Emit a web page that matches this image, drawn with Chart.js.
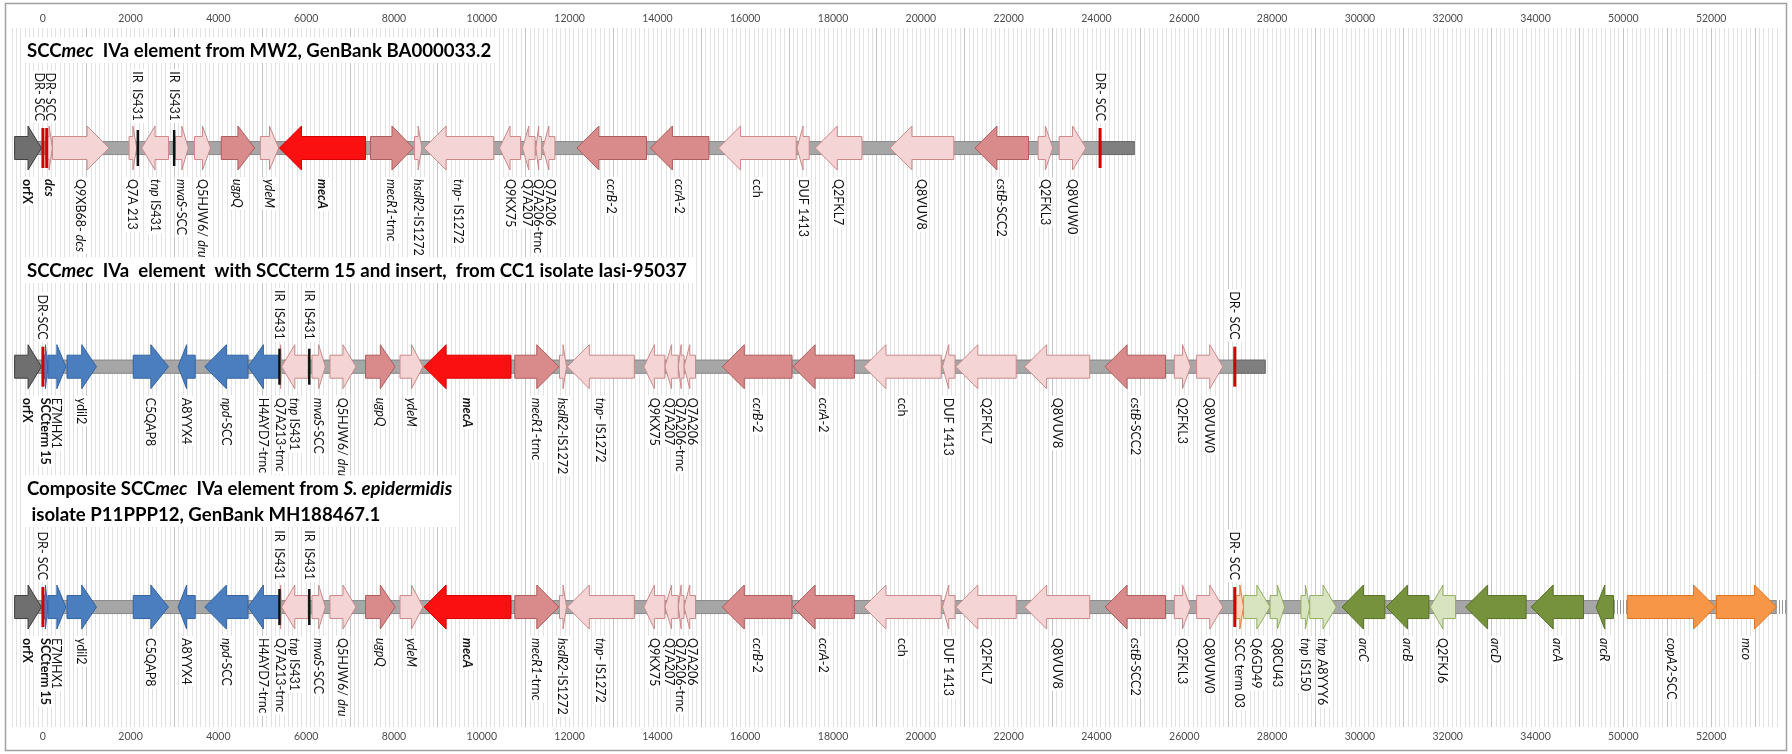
<!DOCTYPE html>
<html>
<head>
<meta charset="utf-8">
<title>SCCmec IVa element maps</title>
<script src="https://cdn.jsdelivr.net/npm/chart.js@4.4.1/dist/chart.umd.min.js"></script>
<style>
  html, body { margin: 0; padding: 0; background: #ffffff; }
  #wrap { position: relative; width: 1792px; height: 754px; }
  canvas { display: block; }
</style>
</head>
<body>
<div id="wrap"><canvas id="map" width="1792" height="754"></canvas></div>
<script>
// ---------------------------------------------------------------------------
// Gene coordinates in bp. Label markup: *italic*, #bold#.
// Each gene: [label, start, end, strand, class]
// ---------------------------------------------------------------------------
const MW2_GENES = [
  ['#orfX#', -640, -30, 1, 'chromosome'],
  ['#*dcs*#', 70, 220, 1, 'scc'],
  ['Q9XB68- *dcs*', 221, 1510, 1, 'scc'],
  ['Q7A 213', 1966, 2140, 1, 'scc'],
  ['*tnp* IS431', 2253, 2864, -1, 'scc'],
  ['*mvaS*-SCC', 3020, 3316, 1, 'scc'],
  ['Q5HJW6/ *dru*', 3456, 3822, 1, 'scc'],
  ['*ugpQ*', 4066, 4825, 1, 'sccCore'],
  ['*ydeM*', 4955, 5374, 1, 'scc'],
  ['#*mecA*#', 5392, 7353, -1, 'mecA'],
  ['*mecR1*-trnc', 7467, 8442, 1, 'sccCore'],
  ['*hsdR2*-IS1272', 8469, 8633, 1, 'scc'],
  ['*tnp*- IS1272', 8686, 10273, -1, 'scc'],
  ['Q9KX75', 10403, 10884, -1, 'scc'],
  ['Q7A207', 10927, 11214, -1, 'scc'],
  ['Q7A206-trnc', 11232, 11362, -1, 'scc'],
  ['Q7A206', 11389, 11667, -1, 'scc'],
  ['*ccrB*-2', 12167, 13752, -1, 'sccCore'],
  ['*ccrA*-2', 13841, 15173, -1, 'sccCore'],
  ['cch', 15392, 17162, -1, 'scc'],
  ['DUF 1413', 17178, 17458, -1, 'scc'],
  ['Q2FKL7', 17596, 18660, -1, 'scc'],
  ['Q8VUV8', 19296, 20752, -1, 'scc'],
  ['*cstB*-SCC2', 21232, 22453, -1, 'sccCore'],
  ['Q2FKL3', 22670, 23002, 1, 'scc'],
  ['Q8VUW0', 23150, 23761, 1, 'scc']
];

const IASI_GENES = [
  ['#orfX#', -640, -30, 1, 'chromosome'],
  ['#SCCterm 15#', 10, 113, 1, 'insert'],
  ['E7MHX1', 117, 527, 1, 'insert'],
  ['ydil2', 553, 1224, 1, 'insert'],
  ['C5QAP8', 2061, 2863, 1, 'insert'],
  ['A8YYX4', 3082, 3473, -1, 'insert'],
  ['*npd*-SCC', 3690, 4677, -1, 'insert'],
  ['H4AYD7-trnc', 4677, 5374, -1, 'insert'],
  ['Q7A213-trnc', 5396, 5440, 1, 'scc'],
  ['*tnp* IS431', 5440, 6044, -1, 'scc'],
  ['*mvaS*-SCC', 6132, 6437, 1, 'scc'],
  ['Q5HJW6/ *dru*', 6542, 7134, 1, 'scc'],
  ['*ugpQ*', 7353, 8025, 1, 'sccCore'],
  ['*ydeM*', 8137, 8661, 1, 'scc'],
  ['#*mecA*#', 8686, 10665, -1, 'mecA'],
  ['*mecR1*-trnc', 10752, 11754, 1, 'sccCore'],
  ['*hsdR2*-IS1272', 11770, 11930, 1, 'scc'],
  ['*tnp*- IS1272', 11948, 13474, -1, 'scc'],
  ['Q9KX75', 13692, 14171, -1, 'scc'],
  ['Q7A207', 14171, 14476, -1, 'scc'],
  ['Q7A206-trnc', 14476, 14606, -1, 'scc'],
  ['Q7A206', 14606, 14868, -1, 'scc'],
  ['*ccrB*-2', 15478, 17066, -1, 'sccCore'],
  ['*ccrA*-2', 17090, 18485, -1, 'sccCore'],
  ['cch', 18704, 20465, -1, 'scc'],
  ['DUF 1413', 20493, 20780, -1, 'scc'],
  ['Q2FKL7', 20797, 22173, -1, 'scc'],
  ['Q8VUV8', 22365, 23847, -1, 'scc'],
  ['*cstB*-SCC2', 24196, 25572, -1, 'sccCore'],
  ['Q2FKL3', 25773, 26146, 1, 'scc'],
  ['Q8VUW0', 26282, 26879, 1, 'scc']
];

// S. epidermidis P11PPP12: same SCCmec IVa core, then the downstream insert
const P11_EXTRA_GENES = [
  ['SCC term 03', 27180, 27351, 1, 'term'],
  ['Q6GD49', 27351, 27954, 1, 'acmeAux'],
  ['Q8CU43', 27954, 28287, 1, 'acmeAux'],
  ['*tnp* IS150', 28658, 28858, 1, 'acmeAux'],
  ['*tnp* A8YYY6', 28858, 29462, 1, 'acmeAux'],
  ['*arcC*', 29593, 30568, -1, 'acme'],
  ['*arcB*', 30598, 31573, -1, 'acme'],
  ['Q2FKJ6', 31604, 32178, -1, 'acmeAux'],
  ['*arcD*', 32408, 33786, -1, 'acme'],
  ['*arcA*', 33900, 35093, -1, 'acme'],
  ['*arcR*', 35380, 35776, -1, 'acme'],
  ['*copA2*-SCC', 50090, 52100, 1, 'cop'],
  ['*mco*', 52120, 53490, 1, 'cop']
];
const P11_GENES = IASI_GENES.concat(P11_EXTRA_GENES);

// Direct repeats (DR) and IS431 inverted repeats (IR): [label, position, kind]
const MW2_MARKERS = [
  ['DR- SCC', 4, 'dr'], ['DR- SCC', 91, 'dr'],
  ['IR  IS431', 2166, 'ir'], ['IR  IS431', 2993, 'ir'],
  ['DR- SCC', 24082, 'dr']
];
const IASI_MARKERS = [
  ['DR-SCC', 4, 'dr'],
  ['IR  IS431', 5392, 'ir'], ['IR  IS431', 6071, 'ir'],
  ['DR- SCC', 27150, 'dr']
];
const P11_MARKERS = [
  ['DR- SCC', 4, 'dr'],
  ['IR  IS431', 5392, 'ir'], ['IR  IS431', 6071, 'ir'],
  ['DR- SCC', 27150, 'dr']
];

// Backbone segments: [start, end, kind]  (flank = chromosomal DNA, gap = sequence break)
const MW2_BACKBONE = [[-650, 24082, 'plain'], [24082, 24870, 'flank']];
const IASI_BACKBONE = [[-650, 27150, 'plain'], [27150, 27853, 'flank']];
const P11_BACKBONE = [[-650, 35776, 'plain'], [35776, 50082, 'gap'], [50082, 53490, 'plain'], [53490, 53720, 'gap']];

// Axis tick labels (bp)
const TICK_BP = [0, 2000, 4000, 6000, 8000, 10000, 12000, 14000, 16000, 18000, 20000,
  22000, 24000, 26000, 28000, 30000, 32000, 34000, 50000, 52000];

const TITLES = [
  ['SCC*mec*  IVa element from MW2, GenBank BA000033.2'],
  ['SCC*mec*  IVa  element  with SCCterm 15 and insert,  from CC1 isolate Iasi-95037'],
  ['Composite SCC*mec*  IVa element from *S. epidermidis*', ' isolate P11PPP12, GenBank MH188467.1']
];

// ---------------------------------------------------------------------------
// Axis break: 35,000–50,000 bp is collapsed so 50,000 bp sits at axis 36,000
// ---------------------------------------------------------------------------
const BREAK_AT_BP = 49000;
const BREAK_SHIFT = 14000;
const BREAK_AXIS = 36000;
const toAxis = bp => (bp >= BREAK_AT_BP ? bp - BREAK_SHIFT : bp);

const TICK_TEXT = new Map(TICK_BP.map(bp => [toAxis(bp), String(bp)]));

// ---------------------------------------------------------------------------
// Styling and layout
// ---------------------------------------------------------------------------
const FONT = 'Lato, "Open Sans", "DejaVu Sans", sans-serif';
const GENE_STYLES = {
  chromosome: { fill: '#6f6f6f', stroke: '#3f3f3f' },
  scc:        { fill: '#f4d4d4', stroke: '#c98a8a' },
  sccCore:    { fill: '#d98b8b', stroke: '#ad5c5c' },
  mecA:       { fill: '#fa1010', stroke: '#d40000' },
  insert:     { fill: '#4a7ebf', stroke: '#35649f' },
  acme:       { fill: '#76923c', stroke: '#587229' },
  acmeAux:    { fill: '#d8e4c0', stroke: '#96af62' },
  term:       { fill: '#fbd7ba', stroke: '#e0803a' },
  cop:        { fill: '#f79646', stroke: '#de7424' }
};
const BACKBONE_STYLES = {
  plain: { fill: '#a6a6a6', stroke: '#8c8c8c' },
  flank: { fill: '#7f7f7f', stroke: '#6a6a6a' }
};
const MARKER_STYLES = {
  dr: { color: '#d00000', width: 3, height: 40 },
  ir: { color: '#111111', width: 2.5, height: 36 }
};
const BODY_H = 23, HEAD_H = 44, HEAD_LEN = 22, BACKBONE_H = 14;
const LABEL_SIZE = 12.5, LABEL_GAP = 11.5, BELOW_OFFSET = 31, ABOVE_OFFSET = 27;
const LABEL_COLOR = '#111111';
const TRACK_LANES = { mw2: 1.64, iasi: 4.87, p11: 8.42 };
const TITLE_LAYOUT = [
  { x: 27, baselines: [57] },
  { x: 27, baselines: [277] },
  { x: 27, baselines: [495, 521] }
];
const TITLE_SIZE = 18.6;

// ---------------------------------------------------------------------------
// Helpers
// ---------------------------------------------------------------------------
function parseMarkup(text, baseBold) {
  const segs = [];
  let bold = !!baseBold, italic = false, buf = '';
  for (const ch of text) {
    if (ch === '#' || ch === '*') {
      if (buf) segs.push({ text: buf, bold, italic });
      buf = '';
      if (ch === '#') bold = !bold; else italic = !italic;
    } else buf += ch;
  }
  if (buf) segs.push({ text: buf, bold, italic });
  return segs;
}
function segFont(seg, size) {
  return (seg.italic ? 'italic ' : '') + (seg.bold ? 'bold ' : '') + size + 'px ' + FONT;
}
function measureSegs(ctx, segs, size) {
  let w = 0;
  segs.forEach(s => { ctx.font = segFont(s, size); w += ctx.measureText(s.text).width; });
  return w;
}
function drawSegs(ctx, segs, size, x, y) {
  let cx = x;
  segs.forEach(s => { ctx.font = segFont(s, size); ctx.fillText(s.text, cx, y); cx += ctx.measureText(s.text).width; });
}

let stripePattern = null;
function getStripes(ctx) {
  if (!stripePattern) {
    const c = document.createElement('canvas');
    c.width = 3; c.height = 4;
    const g = c.getContext('2d');
    g.fillStyle = '#ffffff'; g.fillRect(0, 0, 3, 4);
    g.fillStyle = '#9a9a9a'; g.fillRect(0, 0, 1, 4);
    stripePattern = ctx.createPattern(c, 'repeat');
  }
  return stripePattern;
}

function arrowPath(ctx, left, right, cy, strand) {
  const len = right - left;
  const head = Math.min(HEAD_LEN, len * 0.5);
  const b = BODY_H / 2, h = HEAD_H / 2;
  ctx.beginPath();
  if (strand > 0) {
    const hx = right - head;
    ctx.moveTo(left, cy - b); ctx.lineTo(hx, cy - b); ctx.lineTo(hx, cy - h);
    ctx.lineTo(right, cy); ctx.lineTo(hx, cy + h); ctx.lineTo(hx, cy + b);
    ctx.lineTo(left, cy + b);
  } else {
    const hx = left + head;
    ctx.moveTo(right, cy - b); ctx.lineTo(hx, cy - b); ctx.lineTo(hx, cy - h);
    ctx.lineTo(left, cy); ctx.lineTo(hx, cy + h); ctx.lineTo(hx, cy + b);
    ctx.lineTo(right, cy + b);
  }
  ctx.closePath();
}

// Spread labels that would overlap, keeping each cluster centred on its genes
function spreadLabels(items, gap) {
  const sorted = items.slice().sort((a, b) => a.want - b.want);
  const clusters = sorted.map(it => ({ items: [it], pos: it.want }));
  let merged = true;
  while (merged) {
    merged = false;
    for (let i = 0; i < clusters.length - 1; i++) {
      const a = clusters[i], b = clusters[i + 1];
      const aEnd = a.pos + (a.items.length - 1) * gap;
      if (b.pos - aEnd < gap - 0.01) {
        const all = a.items.concat(b.items);
        const mean = all.reduce((s, it) => s + it.want, 0) / all.length;
        clusters.splice(i, 2, { items: all, pos: mean - (all.length - 1) * gap / 2 });
        merged = true;
        break;
      }
    }
  }
  clusters.forEach(c => c.items.forEach((it, k) => { it.at = c.pos + k * gap; }));
}

// Rotated label: white backing box first, text in a second pass
function labelGeometry(ctx, item, below) {
  const segs = parseMarkup(item.text, false);
  const w = measureSegs(ctx, segs, LABEL_SIZE);
  const start = below ? item.anchor : item.anchor - w;
  return { segs, w, start };
}
function drawLabelBox(ctx, x, g) {
  ctx.save();
  ctx.translate(x, g.start);
  ctx.rotate(Math.PI / 2);
  ctx.fillStyle = '#ffffff';
  ctx.fillRect(-2, -LABEL_SIZE * 0.58, g.w + 4, LABEL_SIZE * 1.16);
  ctx.restore();
}
function drawLabelText(ctx, x, g) {
  ctx.save();
  ctx.translate(x, g.start);
  ctx.rotate(Math.PI / 2);
  ctx.fillStyle = LABEL_COLOR;
  ctx.textBaseline = 'middle';
  ctx.textAlign = 'left';
  drawSegs(ctx, g.segs, LABEL_SIZE, 0, 0.5);
  ctx.restore();
}

// ---------------------------------------------------------------------------
// Custom controller: floating horizontal bars drawn as gene arrows
// ---------------------------------------------------------------------------
class GeneTrackController extends Chart.BarController {
  draw() {
    const ctx = this.chart.ctx;
    const ds = this.getDataset();
    const meta = this._cachedMeta;
    ctx.save();
    meta.data.forEach((el, i) => {
      const d = ds.data[i];
      const p = el.getProps(['x', 'y', 'base'], true);
      const left = Math.min(p.x, p.base), right = Math.max(p.x, p.base);
      const cy = p.y;
      if (ds.role === 'backbone') {
        const top = cy - BACKBONE_H / 2;
        if (d.kind === 'gap') {
          ctx.fillStyle = getStripes(ctx);
          ctx.fillRect(left, top, right - left, BACKBONE_H);
        } else {
          const st = BACKBONE_STYLES[d.kind];
          ctx.fillStyle = st.fill; ctx.strokeStyle = st.stroke; ctx.lineWidth = 1;
          ctx.fillRect(left, top, right - left, BACKBONE_H);
          ctx.strokeRect(left + 0.5, top + 0.5, right - left - 1, BACKBONE_H - 1);
        }
      } else if (ds.role === 'genes') {
        const st = GENE_STYLES[d.kind];
        arrowPath(ctx, left, right, cy, d.strand);
        ctx.fillStyle = st.fill; ctx.fill();
        ctx.strokeStyle = st.stroke; ctx.lineWidth = 1; ctx.lineJoin = 'miter'; ctx.stroke();
      } else if (ds.role === 'markers') {
        const st = MARKER_STYLES[d.kind];
        const mx = (left + right) / 2;
        ctx.strokeStyle = st.color; ctx.lineWidth = st.width; ctx.lineCap = 'butt';
        ctx.beginPath(); ctx.moveTo(mx, cy - st.height / 2); ctx.lineTo(mx, cy + st.height / 2); ctx.stroke();
      }
    });
    ctx.restore();
  }
}
GeneTrackController.id = 'geneTrack';
GeneTrackController.defaults = Object.assign({}, Chart.BarController.defaults);
Chart.register(GeneTrackController);

// ---------------------------------------------------------------------------
// Datasets
// ---------------------------------------------------------------------------
const baseDs = { type: 'geneTrack', indexAxis: 'y', grouped: false, clip: false, xAxisID: 'x', yAxisID: 'y' };

function geneDataset(genes, lane) {
  return Object.assign({}, baseDs, {
    role: 'genes', order: 2,
    data: genes.map(([label, start, end, strand, kind]) =>
      ({ x: [toAxis(start), toAxis(end)], y: lane, label, strand, kind }))
  });
}
function markerDataset(markers, lane) {
  return Object.assign({}, baseDs, {
    role: 'markers', order: 1,
    data: markers.map(([label, pos, kind]) => ({ x: [toAxis(pos), toAxis(pos)], y: lane, label, kind }))
  });
}
function backboneDataset(segments, lane) {
  return Object.assign({}, baseDs, {
    role: 'backbone', order: 3,
    data: segments.map(([start, end, kind]) => ({ x: [toAxis(start), toAxis(end)], y: lane, kind }))
  });
}

const datasets = [
  backboneDataset(MW2_BACKBONE, TRACK_LANES.mw2),
  geneDataset(MW2_GENES, TRACK_LANES.mw2),
  markerDataset(MW2_MARKERS, TRACK_LANES.mw2),
  backboneDataset(IASI_BACKBONE, TRACK_LANES.iasi),
  geneDataset(IASI_GENES, TRACK_LANES.iasi),
  markerDataset(IASI_MARKERS, TRACK_LANES.iasi),
  backboneDataset(P11_BACKBONE, TRACK_LANES.p11),
  geneDataset(P11_GENES, TRACK_LANES.p11),
  markerDataset(P11_MARKERS, TRACK_LANES.p11)
];

// ---------------------------------------------------------------------------
// Plugins: gene labels, element titles, outer frame
// ---------------------------------------------------------------------------
const geneLabels = {
  id: 'geneLabels',
  afterDatasetsDraw(chart) {
    const ctx = chart.ctx;
    const placed = [];
    chart.data.datasets.forEach((ds, di) => {
      if (ds.role !== 'genes' && ds.role !== 'markers') return;
      const below = ds.role === 'genes';
      const meta = chart.getDatasetMeta(di);
      const items = meta.data.map((el, i) => {
        const p = el.getProps(['x', 'base', 'y'], true);
        return {
          want: (p.x + p.base) / 2,
          anchor: below ? p.y + BELOW_OFFSET : p.y - ABOVE_OFFSET,
          text: ds.data[i].label
        };
      }).filter(it => it.text);
      spreadLabels(items, LABEL_GAP);
      items.forEach(it => placed.push({ x: it.at, g: labelGeometry(ctx, it, below) }));
    });
    placed.forEach(l => drawLabelBox(ctx, l.x, l.g));
    placed.forEach(l => drawLabelText(ctx, l.x, l.g));
  }
};

const elementTitles = {
  id: 'elementTitles',
  afterDatasetsDraw(chart) {
    const ctx = chart.ctx;
    ctx.save();
    TITLES.forEach((lines, ti) => {
      const lay = TITLE_LAYOUT[ti];
      const segLines = lines.map(t => parseMarkup(t, true));
      const widths = segLines.map(s => measureSegs(ctx, s, TITLE_SIZE));
      const top = lay.baselines[0] - TITLE_SIZE - 1;
      const bottom = lay.baselines[lay.baselines.length - 1] + 6;
      ctx.fillStyle = '#ffffff';
      ctx.fillRect(lay.x - 5, top, Math.max(...widths) + 12, bottom - top);
      ctx.fillStyle = '#000000';
      ctx.textBaseline = 'alphabetic';
      ctx.textAlign = 'left';
      segLines.forEach((segs, li) => drawSegs(ctx, segs, TITLE_SIZE, lay.x, lay.baselines[li]));
    });
    ctx.restore();
  },
  afterDraw(chart) {
    const ctx = chart.ctx;
    ctx.save();
    ctx.strokeStyle = '#a0a0a0';
    ctx.lineWidth = 1.5;
    ctx.strokeRect(5.5, 3.5, 1781, 747);
    ctx.restore();
  }
};

// ---------------------------------------------------------------------------
// Axes
// ---------------------------------------------------------------------------
function isMajor(v) {
  if (v >= BREAK_AXIS) return (v - BREAK_AXIS) % 1000 === 0;
  return Math.abs(v % 2000) === 1000;
}
const gridColor = c => (c.tick && isMajor(c.tick.value) ? '#c4c4c4' : '#e2e2e2');
const tickOptions = {
  stepSize: 100,
  maxTicksLimit: 1000,
  autoSkip: false,
  maxRotation: 0,
  minRotation: 0,
  padding: 3,
  color: '#4d4d4d',
  font: { family: FONT, size: 10.5 },
  callback: value => TICK_TEXT.get(value) || ''
};

new Chart(document.getElementById('map'), {
  type: 'bar',
  data: { datasets },
  plugins: [geneLabels, elementTitles],
  options: {
    responsive: false,
    animation: false,
    indexAxis: 'y',
    layout: { padding: { left: 12, right: 15, top: 3, bottom: 3 } },
    events: [],
    plugins: { legend: { display: false }, tooltip: { enabled: false }, title: { display: false } },
    scales: {
      x: {
        type: 'linear', position: 'bottom', min: -700, max: 39500, stacked: false,
        offset: false,
        border: { display: false },
        grid: { color: gridColor, tickColor: gridColor, lineWidth: 1, tickLength: 13, drawOnChartArea: true },
        ticks: tickOptions,
        afterFit: s => { s.height = 37; }
      },
      x2: {
        type: 'linear', position: 'top', min: -700, max: 39500,
        offset: false,
        border: { display: false },
        grid: { color: gridColor, tickColor: gridColor, lineWidth: 1, tickLength: 9, drawOnChartArea: false },
        ticks: tickOptions,
        afterFit: s => { s.height = 34; }
      },
      y: {
        type: 'linear', display: false, reverse: true, min: 0, max: 10, offset: false,
        grid: { display: false }
      }
    }
  }
});
</script>
</body>
</html>
